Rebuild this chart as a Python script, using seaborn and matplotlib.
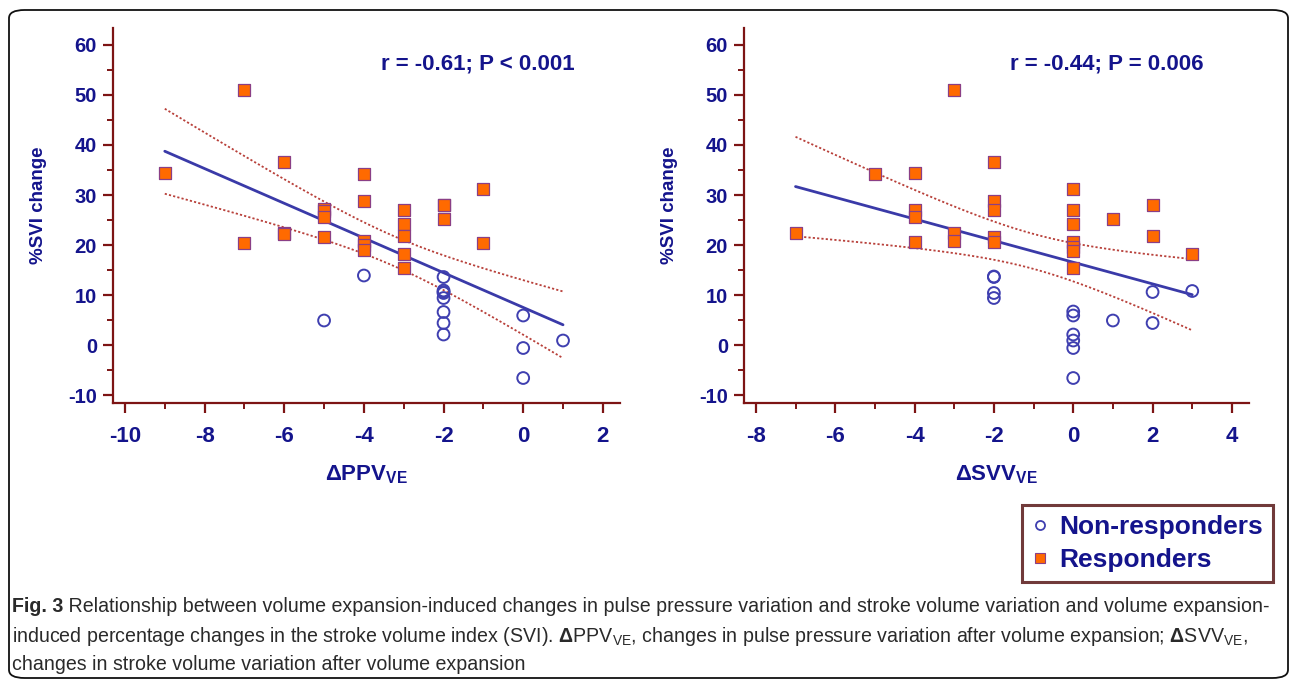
import matplotlib
matplotlib.use('Agg')
import matplotlib.pyplot as plt
from matplotlib.lines import Line2D
from matplotlib.patches import FancyBboxPatch
from matplotlib.ticker import MultipleLocator
import seaborn as sns
import numpy as np
import pandas as pd

# ---- data ----
# left panel: delta PPV
ppv_resp_x = [-9, -7, -7, -6, -6, -6, -5, -5, -5, -5, -4, -4, -4, -4, -4,
              -3, -3, -3, -3, -3, -2, -2, -2, -1, -1]
ppv_resp_y = [34.3, 51.0, 20.5, 36.5, 22.5, 22.3, 27.2, 26.9, 25.7, 21.6,
              34.1, 28.8, 20.8, 20.0, 19.0, 27.0, 24.2, 21.8, 18.2, 15.4,
              28.1, 28.0, 25.3, 31.2, 20.5]
ppv_non_x = [-5, -4, -2, -2, -2, -2, -2, -2, -2, -2, 0, 0, 0, 1]
ppv_non_y = [4.9, 13.9, 13.6, 10.9, 10.6, 10.4, 9.4, 6.6, 4.4, 2.1,
             5.9, -0.6, -6.6, 0.9]

# right panel: delta SVV
svv_resp_x = [-7, -5, -4, -4, -4, -4, -3, -3, -3, -2, -2, -2, -2, -2,
              0, 0, 0, 0, 0, 0, 0, 1, 2, 2, 3]
svv_resp_y = [22.5, 34.1, 34.3, 27.0, 25.7, 20.7, 51.0, 22.4, 20.9,
              36.5, 28.8, 27.0, 21.7, 20.6, 31.2, 27.0, 24.2, 20.7,
              19.7, 18.8, 15.4, 25.3, 28.1, 21.8, 18.2]
svv_non_x = [-2, -2, -2, -2, 0, 0, 0, 0, 0, 0, 1, 2, 2, 3]
svv_non_y = [13.7, 13.6, 10.4, 9.4, 6.7, 5.9, 2.1, 0.9, -0.6, -6.6,
             4.9, 10.6, 4.4, 10.8]

stats_text = ['r = -0.61; P < 0.001', 'r = -0.44; P = 0.006']
y_ticks = [-10, 0, 10, 20, 30, 40, 50, 60]

NAVY = '#14148c'
AXC = '#7d1414'
ORANGE = '#ff6a00'
SQ_EDGE = '#8a3f86'
CIRC = '#3f3fb0'
FIT = '#3a3aa8'
CI_C = '#b8403a'

sns.set_theme(style='white')
plt.rcParams['font.family'] = ['Liberation Sans', 'DejaVu Sans']
plt.rcParams['axes.unicode_minus'] = False
plt.rcParams['mathtext.fontset'] = 'custom'
plt.rcParams['mathtext.sf'] = 'Liberation Sans:bold'
plt.rcParams['mathtext.bf'] = 'Liberation Sans:bold'
plt.rcParams['mathtext.rm'] = 'Liberation Sans'

fig = plt.figure(figsize=(12.9, 6.81), dpi=100, facecolor='white')
ax1 = fig.add_axes([0.0876, 0.4082, 0.393, 0.5507])
ax2 = fig.add_axes([0.5767, 0.4082, 0.3915, 0.5507])


def make_df(rx, ry, nx, ny):
    return pd.DataFrame({
        'x': list(nx) + list(rx),
        'y': list(ny) + list(ry),
        'group': ['Non-responders'] * len(nx) + ['Responders'] * len(rx),
    })


def draw_panel(ax, df, xlim, xticks, xlabel, text):
    non = df[df['group'] == 'Non-responders']
    resp = df[df['group'] == 'Responders']

    # regression line with 95% CI of the mean
    x = df['x'].values.astype(float)
    y = df['y'].values.astype(float)
    n = len(x)
    b, a = np.polyfit(x, y, 1)
    xs = np.linspace(x.min(), x.max(), 100)
    yhat = a + b * xs
    resid = y - (a + b * x)
    s = np.sqrt(np.sum(resid ** 2) / (n - 2))
    sxx = np.sum((x - x.mean()) ** 2)
    se = s * np.sqrt(1.0 / n + (xs - x.mean()) ** 2 / sxx)
    t = 2.024
    ax.plot(xs, yhat + t * se, color=CI_C, linestyle=(0, (1.2, 1.2)), linewidth=1.3, zorder=2)
    ax.plot(xs, yhat - t * se, color=CI_C, linestyle=(0, (1.2, 1.2)), linewidth=1.3, zorder=2)
    ax.plot(xs, yhat, color=FIT, linewidth=2.0, zorder=3)

    sns.scatterplot(data=non, x='x', y='y', ax=ax, marker='o', s=72,
                    facecolor='none', edgecolor=CIRC, linewidth=1.4, zorder=4)
    sns.scatterplot(data=resp, x='x', y='y', ax=ax, marker='s', s=64,
                    color=ORANGE, edgecolor=SQ_EDGE, linewidth=0.9, zorder=5)

    ax.set_xlim(*xlim)
    ax.set_ylim(-11.6, 63.4)
    ax.set_xticks(xticks)
    ax.xaxis.set_minor_locator(MultipleLocator(1))
    ax.set_yticks(y_ticks)
    ax.yaxis.set_minor_locator(MultipleLocator(5))

    for sp in ['top', 'right']:
        ax.spines[sp].set_visible(False)
    for sp in ['left', 'bottom']:
        ax.spines[sp].set_color(AXC)
        ax.spines[sp].set_linewidth(1.6)

    ax.tick_params(axis='both', which='major', direction='out', length=7.5,
                   width=1.6, color=AXC, labelcolor=NAVY)
    ax.tick_params(axis='both', which='minor', direction='out', length=4.5,
                   width=1.4, color=AXC)
    ax.tick_params(axis='x', which='both', bottom=True, pad=9)
    ax.tick_params(axis='y', which='both', left=True, pad=4)
    for lab in ax.get_xticklabels():
        lab.set_fontsize(16)
        lab.set_fontweight('bold')
    for lab in ax.get_yticklabels():
        lab.set_fontsize(14.5)
        lab.set_fontweight('bold')

    ax.set_xlabel(xlabel, fontsize=16, color=NAVY, labelpad=12)
    ax.set_ylabel('%SVI change', fontsize=13.5, fontweight='bold', color=NAVY)
    ax.yaxis.set_label_coords(-0.13, 0.528)
    ax.text(0.91, 0.904, text, transform=ax.transAxes, ha='right', va='center',
            fontsize=16, fontweight='bold', color=NAVY)
    ax.grid(False)


df_ppv = make_df(ppv_resp_x, ppv_resp_y, ppv_non_x, ppv_non_y)
df_svv = make_df(svv_resp_x, svv_resp_y, svv_non_x, svv_non_y)

draw_panel(ax1, df_ppv, (-10.3, 2.43), [-10, -8, -6, -4, -2, 0, 2],
           r'$\mathsf{\Delta PPV_{VE}}$', stats_text[0])
draw_panel(ax2, df_svv, (-8.3, 4.43), [-8, -6, -4, -2, 0, 2, 4],
           r'$\mathsf{\Delta SVV_{VE}}$', stats_text[1])

# legend
handles = [
    Line2D([], [], marker='o', linestyle='none', markersize=6.5,
           markerfacecolor='white', markeredgecolor=CIRC, markeredgewidth=1.3),
    Line2D([], [], marker='s', linestyle='none', markersize=7,
           markerfacecolor=ORANGE, markeredgecolor=SQ_EDGE, markeredgewidth=0.8),
]
leg = fig.legend(handles, ['Non-responders', 'Responders'], loc='upper right',
                 bbox_to_anchor=(0.987, 0.258), frameon=True, fancybox=False,
                 prop={'weight': 'bold', 'size': 19}, labelcolor=NAVY,
                 handletextpad=0.45, handlelength=0.6, labelspacing=0.32,
                 borderpad=0.38, borderaxespad=0)
leg.get_frame().set_edgecolor('#4e0808')
leg.get_frame().set_linewidth(2.2)

# caption, sized so the first line spans the same width as in the figure
cap_kw = dict(fontsize=14, color='#2a2a2a', va='center')
renderer = fig.canvas.get_renderer()
x0 = 12 / 1290
fig_lab = fig.text(x0, 1 - 607 / 681, 'Fig. 3', fontweight='bold', ha='left', **cap_kw)
cap_lines = [
    ' Relationship between volume expansion-induced changes in pulse pressure '
    'variation and stroke volume variation and volume expansion-',
    r'induced percentage changes in the stroke volume index (SVI). $\mathbf{\Delta}\mathrm{PPV_{VE}}$, '
    r'changes in pulse pressure variation after volume expansion; $\mathbf{\Delta}\mathrm{SVV_{VE}}$,',
    'changes in stroke volume variation after volume expansion',
]
cap_y = [607, 636, 664]
cap_texts = [fig.text(x0, 1 - yy / 681, s, ha='left', **cap_kw) for s, yy in zip(cap_lines, cap_y)]
w_all = fig_lab.get_window_extent(renderer).width + cap_texts[0].get_window_extent(renderer).width
new_size = 14 * 1262 / w_all
fig_lab.set_fontsize(new_size)
for t in cap_texts:
    t.set_fontsize(new_size)
w_lab = fig_lab.get_window_extent(renderer).width
cap_texts[0].set_x(x0 + w_lab / 1290)

# outer rounded frame
frame = FancyBboxPatch((9 / 1290, 3 / 681), 1279 / 1290, 668 / 681,
                       boxstyle='round,pad=0,rounding_size=0.012',
                       transform=fig.transFigure, facecolor='none',
                       edgecolor='#111111', linewidth=1.3, clip_on=False)
fig.patches.append(frame)

fig.savefig('out.png', dpi=100, facecolor='white')
plt.close(fig)
